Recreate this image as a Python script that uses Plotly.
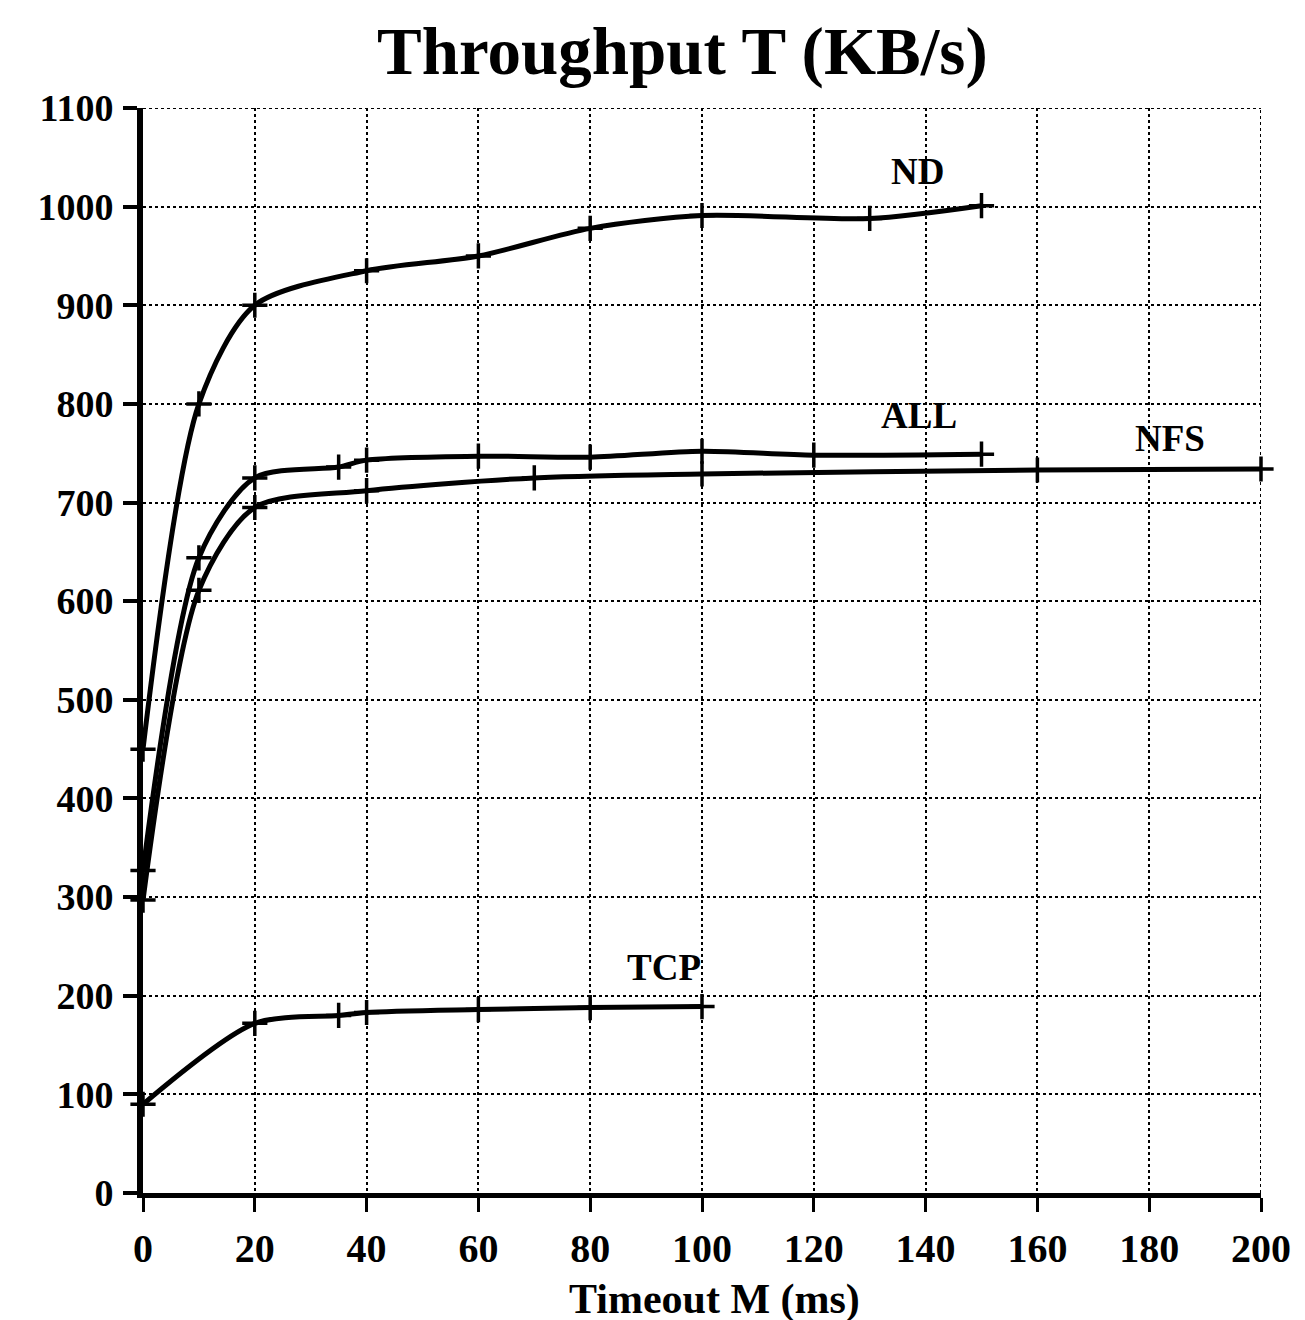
import plotly.graph_objects as go

# ---- data ----
nd_x = [0, 10, 20, 40, 60, 80, 100, 130, 150]
nd_y = [450, 800, 900, 935, 950, 978, 991, 988, 1001]

all_x = [0, 10, 20, 35, 40, 60, 80, 100, 120, 150]
all_y = [327, 644, 725, 736, 743, 747, 746, 752, 748, 749]

nfs_x = [0, 10, 20, 40, 70, 100, 160, 200]
nfs_y = [297, 611, 695, 712, 725, 729, 733, 734]

tcp_x = [0, 20, 35, 40, 60, 80, 100]
tcp_y = [90, 172, 180, 183, 186, 188, 189]

series_names = ["ND", "ALL", "NFS", "TCP"]
label_x = [138.6, 138.8, 183.7, 93.2]
label_y = [1036, 788, 765, 229]

x_ticks = [0, 20, 40, 60, 80, 100, 120, 140, 160, 180, 200]
y_ticks = [0, 100, 200, 300, 400, 500, 600, 700, 800, 900, 1000, 1100]

title_text = "Throughput T (KB/s)"
xaxis_title = "Timeout M (ms)"

FONT = "Liberation Serif"

fig = go.Figure()
for name, xs, ys in [("ND", nd_x, nd_y), ("ALL", all_x, all_y),
                     ("NFS", nfs_x, nfs_y), ("TCP", tcp_x, tcp_y)]:
    fig.add_trace(go.Scatter(
        x=xs, y=ys, name=name, mode="lines+markers",
        line=dict(color="black", width=5, shape="spline", smoothing=0.8),
        marker=dict(symbol="cross-thin", size=18,
                    line=dict(color="black", width=3.5)),
        showlegend=False, cliponaxis=False,
    ))

for name, lx, ly in zip(series_names, label_x, label_y):
    fig.add_annotation(x=lx, y=ly, text=name, showarrow=False,
                       font=dict(family=FONT, size=37, color="black",
                                 weight="bold"),
                       xanchor="center", yanchor="middle")

fig.add_annotation(xref="paper", yref="paper", x=0.483, y=1.052,
                   text=title_text, showarrow=False,
                   font=dict(family=FONT, size=67, color="black",
                             weight="bold"),
                   xanchor="center", yanchor="middle")
fig.add_annotation(xref="paper", yref="paper", x=0.511, y=-0.098,
                   text=xaxis_title, showarrow=False,
                   font=dict(family=FONT, size=42, color="black",
                             weight="bold"),
                   xanchor="center", yanchor="middle")

# dotted frame on the top and right edges (grid continuation)
fig.add_shape(type="line", xref="paper", yref="y", x0=0, x1=1,
              y0=y_ticks[-1], y1=y_ticks[-1],
              line=dict(color="black", width=2, dash="dot"))
fig.add_shape(type="line", xref="x", yref="paper", x0=x_ticks[-1],
              x1=x_ticks[-1], y0=0, y1=1,
              line=dict(color="black", width=2, dash="dot"))

fig.update_xaxes(
    range=[0, 200], tickvals=x_ticks, ticktext=[str(v) for v in x_ticks],
    showline=True, linecolor="black", linewidth=5,
    ticks="outside", ticklen=14, tickwidth=3, tickcolor="black",
    showgrid=True, gridcolor="black", gridwidth=2, griddash="dot",
    zeroline=False, ticklabelstandoff=2,
    tickfont=dict(family=FONT, size=40, color="black", weight="bold"),
)
fig.update_yaxes(
    range=[0, 1100], tickvals=y_ticks, ticktext=[str(v) for v in y_ticks],
    showline=True, linecolor="black", linewidth=6,
    ticks="outside", ticklen=14, tickwidth=4, tickcolor="black",
    showgrid=True, gridcolor="black", gridwidth=2, griddash="dot",
    zeroline=False, ticklabelstandoff=2,
    tickfont=dict(family=FONT, size=38, color="black", weight="bold"),
)

fig.update_layout(
    width=1305, height=1320,
    margin=dict(l=135, r=52, t=100, b=135),
    paper_bgcolor="white", plot_bgcolor="white",
    font=dict(family=FONT, color="black"),
)

fig.write_html("out.html")
